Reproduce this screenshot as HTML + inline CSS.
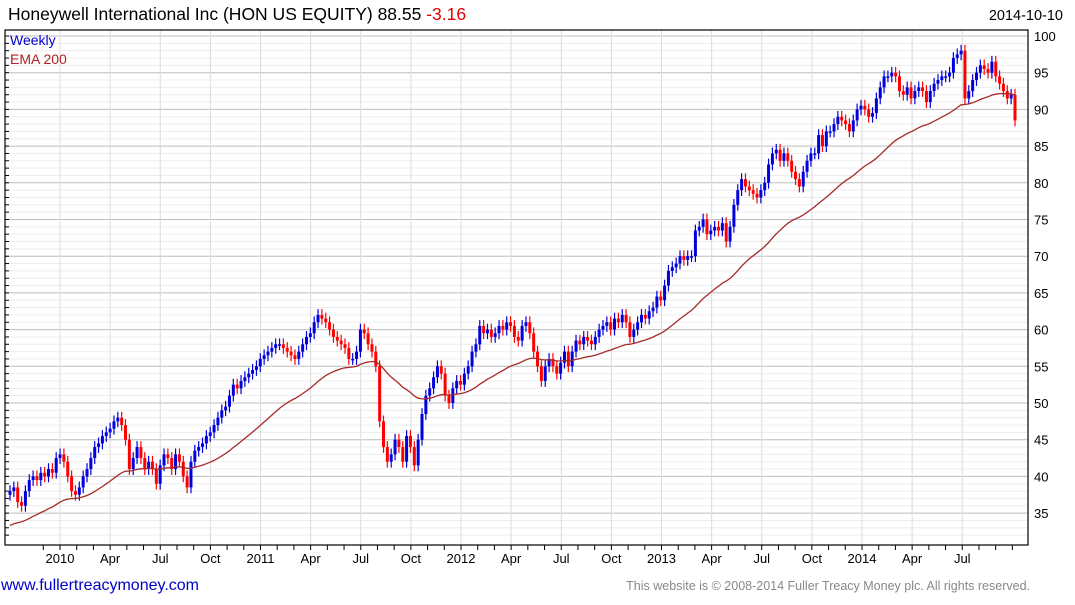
<!DOCTYPE html>
<html><head><meta charset="utf-8"><style>
body{margin:0;background:#fff;width:1075px;height:600px;overflow:hidden;font-family:"Liberation Sans",sans-serif}
</style></head><body>
<svg id="chart" width="1075" height="600" xmlns="http://www.w3.org/2000/svg" style="font-family:'Liberation Sans',sans-serif">
<text x="8" y="20" font-size="17.5" fill="#000">Honeywell International Inc (HON US EQUITY) 88.55 <tspan fill="#e00000">-3.16</tspan></text>
<text x="1063" y="20" font-size="14.5" text-anchor="end" fill="#000">2014-10-10</text>
<g id="grid"></g>
<g id="marks"></g>
<text x="10" y="45" font-size="14" fill="#0000cc">Weekly</text>
<text x="10" y="64" font-size="14" fill="#b22222">EMA 200</text>
<text x="1" y="590" font-size="16" fill="#0000cc">www.fullertreacymoney.com</text>
<text x="1030" y="590" font-size="12.5" text-anchor="end" fill="#888">This website is © 2008-2014 Fuller Treacy Money plc. All rights reserved.</text>
</svg>
<script>
const yTicks=[35,40,45,50,55,60,65,70,75,80,85,90,95,100];
const monthLabels=["2010","Apr","Jul","Oct","2011","Apr","Jul","Oct","2012","Apr","Jul","Oct","2013","Apr","Jul","Oct","2014","Apr","Jul"];
const closes=[38,38.5,36.5,36,38,39.5,40,39.5,40.5,40,41,40.5,42.5,
43,42,40,38,37.5,38.5,40,41,42.5,44,44.5,45.5,46,46.5,47.5,48,47,45,41,42.5,44,42.5,41,42,41,39,41.5,43,42.5,41,43,42,40,38.5,42,43.5,44,44.5,45.5,46,47,48,49,49.5,51,52.5,52,53,53.5,54,54.5,55,
56,56.5,57,57.5,58,58,57.5,57,56.5,56,57,58,59,59.5,61,62,61.5,61,60,59,58.5,58,57.5,56,56,57,60,59.5,58,57,55,47.5,44,42,43,45,44,42,45.5,44,41.5,45,48.5,51,52,53.5,55,54,51,50,52,53,52.5,
54,55,57,58,60.5,59.5,60,59,59.5,60.5,60,61,60.5,59,58.5,60.5,61,59.5,57,55,53,55,56,55,54,55.5,57,55,57,58.5,58,59,58.5,58,59,60,60.5,61,60,61.5,61,62,61,59,60,61,62,61.5,62.5,63,64.5,64,
66,68,68.5,69,70,69.5,70,70,73.5,74,75,73,73.5,74,73.5,74.5,72,74,77,79,80.5,79.5,79,78.5,78,79,80,82.5,84,84.5,83,84,83,81.5,80.5,79.5,81.5,83,84,84,86.5,85,87,87,88,89,88.5,88,87,88.5,90,90.5,
90,89,89.5,91.5,93,94.5,94.5,95,94.5,92.5,92,93,91.5,92.5,93,92.5,91,92.5,93.5,94,94.5,94.5,95,97,97.5,98,91.5,92.5,94,95,96,95.5,95,96.5,94.5,93.5,92.5,91.5,92,88.5];
const emaSeed=33.3;
const emaPeriod=40;

const L=5,R=1028,T=30,B=545;
const NS="http://www.w3.org/2000/svg";
const yS=p=>36+(100-p)*7.34;
const xFirst=10,xLast=1015;
const xS=i=>xFirst+i*(xLast-xFirst)/(closes.length-1);
const mx=k=>60+k*(200.5/4);
const grid=document.getElementById('grid'),marks=document.getElementById('marks');
function mk(tag,a,parent){const e=document.createElementNS(NS,tag);for(const k in a)e.setAttribute(k,a[k]);parent.appendChild(e);return e;}
for(let p=32;p<=100;p++){
  const major=p%5===0;
  const l=mk('line',{x1:L,x2:R,y1:yS(p),y2:yS(p),stroke:major?'#bdbdbd':'#ededed','stroke-width':1},grid);
  
  
  const t=mk('line',{x1:L,x2:L+4,y1:yS(p),y2:yS(p),stroke:'#000'},grid);
  
  
}
yTicks.forEach(v=>{
  const t=mk('text',{x:1034,y:yS(v)+5,'font-size':13,fill:'#000'},grid);
  t.textContent=v;
  
  
});
for(let m=-1;m<=Math.ceil((xLast-60)/(200.5/12));m++){
  const x=60+m*200.5/12;
  if(x<L||x>R)continue;
  const tk=mk('line',{x1:x,x2:x,y1:B,y2:B+5,stroke:'#000'},grid);
  
  
}
monthLabels.forEach((s,k)=>{
  const x=mx(k);
  const g=mk('line',{x1:x,x2:x,y1:T,y2:B,stroke:'#dcdcdc'},grid);
  
  
  const t=mk('text',{x:x,y:563,'font-size':13,'text-anchor':'middle',fill:'#000'},grid);
  t.textContent=s;
  
  
});
const fr=mk('rect',{x:L,y:T,width:R-L,height:B-T,fill:'none',stroke:'#000','stroke-width':1.2},grid);


for(let i=0;i<closes.length;i++){
  const c=closes[i],o=i>0?closes[i-1]:c-0.5;
  const up=c>=o,col=up?'#0000dd':'#ff0000';
  const x=xS(i),hi=Math.max(o,c)+0.8,lo=Math.min(o,c)-0.8;
  const w=mk('line',{x1:x,x2:x,y1:yS(hi),y2:yS(lo),stroke:col,'stroke-width':1.2},marks);
  
  
  const top=yS(Math.max(o,c)),h=Math.max(1.5,Math.abs(yS(o)-yS(c)));
  const b=mk('rect',{x:x-1.5,y:top,width:3,height:h,fill:col},marks);
  
  
}
let e=emaSeed,pts=[];const a=2/(emaPeriod+1);
for(let i=0;i<closes.length;i++){if(i>0)e=e+a*(closes[i]-e);pts.push(xS(i).toFixed(1)+','+yS(e).toFixed(1));}
const pl=mk('polyline',{points:pts.join(' '),fill:'none',stroke:'#a52a2a','stroke-width':1.3},marks);


</script>
</body></html>
